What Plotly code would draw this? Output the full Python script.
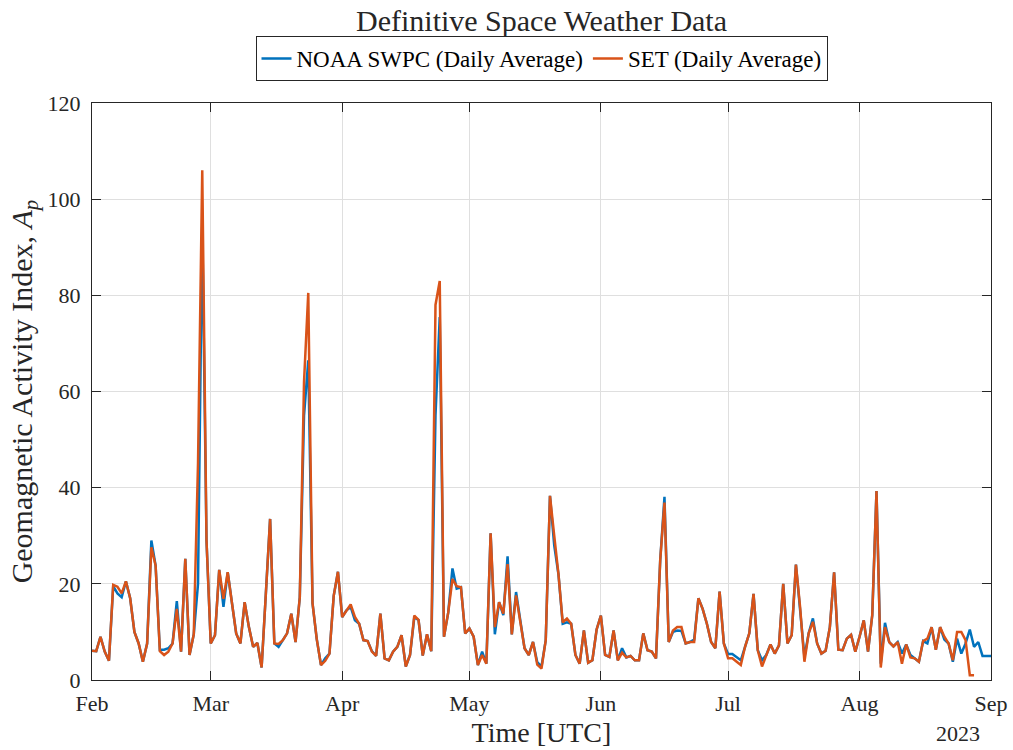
import pandas as pd
import plotly.graph_objects as go

# Daily average Ap, 2023-02-01 .. 2023-09-01
noaa_ap = [
    6.1, 6, 9, 5.9, 4, 19.5, 18, 17.2, 20.5, 17, 10, 7.6, 3.8, 7.6, 29, 23.8, 6.3, 6.3, 6.6, 7.6,
    16.4, 5.9, 25.2, 5.2, 9.5, 20, 95, 29, 7.6, 9.3, 22.9, 15.2, 22.4, 15.9, 9.7, 7.6, 16.2, 11, 6.9, 7.7,
    2.6, 18, 33.5, 7.6, 6.9, 8.3, 9.7, 13.8, 7.9, 17.2, 55, 66.5, 16, 8.5, 3.1, 4.5, 5.5, 17.5, 22.5, 13.1,
    14.5, 15.2, 12.4, 11.7, 8.3, 8.1, 6, 5, 13.8, 4.5, 4.1, 5.9, 6.9, 9.3, 2.8, 5.2, 13, 12.5, 5.1, 9.5,
    6, 55, 75.5, 9, 14, 23.2, 19, 19.3, 9.7, 10.7, 9, 3.1, 5.9, 3.4, 30.5, 9.5, 16.2, 13.5, 25.7, 9.5,
    18.3, 12.4, 6.6, 5.2, 7.9, 3.7, 2.8, 8.3, 38.3, 28, 22, 11.7, 12, 11.7, 5.2, 3.4, 10.3, 3.6, 4.1, 10.5,
    13.4, 5.2, 4.8, 10.3, 4.1, 6.6, 4.7, 5, 4.1, 4.1, 9.7, 6.2, 5.9, 4.5, 25, 38.1, 7.9, 10, 10.3, 10.2,
    7.6, 7.9, 8.4, 17, 14.8, 11.7, 7.9, 6.6, 18.4, 7.6, 5.4, 5.4, 4.8, 4.1, 6.9, 9.7, 17.9, 6.2, 4.1, 5.2,
    7.4, 5.5, 7.2, 20, 7.6, 9.3, 24, 15, 4.8, 9.7, 12.8, 7.6, 5.5, 6.1, 11, 22.4, 6.3, 6.2, 8.6, 9.4,
    5.9, 9, 12.4, 5.9, 13.5, 39.3, 3.4, 11.9, 7.9, 7, 7.9, 5.5, 7.4, 5.2, 4.5, 3.8, 8.1, 7.6, 11, 6.3,
    11, 8.4, 7.6, 3.8, 8.6, 5.5, 7.6, 10.5, 6.9, 7.9, 5, 5, 5,
]

set_ap = [
    6.1, 6, 9, 5.9, 4, 19.8, 19.4, 18, 20.5, 17, 10, 7.6, 3.8, 7.6, 27.6, 23.8, 6, 5.2, 5.9, 7.6,
    14.8, 5.9, 25.2, 5.2, 9.5, 45, 106, 29, 7.6, 9.3, 22.9, 16.9, 22.4, 15.9, 9.7, 7.6, 16.2, 11, 6.9, 7.7,
    2.6, 18, 33.5, 7.6, 7.5, 8.3, 9.7, 13.8, 7.9, 17.2, 62, 80.5, 16, 8.5, 3.1, 4, 5.5, 17.5, 22.5, 13.1,
    14.5, 15.7, 13.1, 11.7, 8.3, 8.1, 5.9, 5, 13.8, 4.5, 4.1, 5.9, 6.9, 9.3, 2.8, 5.2, 13.4, 12.5, 5.1, 9.5,
    6, 78, 83, 9, 14, 21, 19.5, 19.3, 9.7, 10.7, 9, 3.1, 5.2, 3.4, 30.5, 11, 16.2, 13.8, 24.1, 9.5,
    17.6, 12.4, 6.6, 5.2, 7.9, 3.2, 2.4, 8.3, 38.3, 30, 22, 12, 12.8, 11.7, 5.2, 3.4, 10.3, 3.6, 4.1, 10.5,
    13.4, 5.2, 4.8, 10.3, 4.1, 5.7, 4.7, 5, 4.1, 4.1, 9.7, 6.2, 5.9, 4.5, 25, 36.9, 7.9, 10.3, 11, 11,
    7.6, 7.9, 7.9, 17, 14.8, 11.7, 7.9, 6.6, 18.4, 7.6, 4.5, 4.5, 3.8, 3.1, 6.9, 9.7, 17.9, 6.2, 2.8, 5.2,
    7.4, 5.5, 7.2, 20, 7.6, 9.3, 24, 15, 3.8, 9.7, 12.1, 7.6, 5.5, 6.1, 11, 22.4, 6.3, 6.2, 8.6, 9.4,
    5.9, 9, 12.4, 5.9, 13.5, 39.3, 2.6, 11, 7.9, 7, 7.9, 3.4, 7.4, 4.7, 4.5, 3.8, 8.1, 8.6, 11, 6.3,
    11, 9, 7.6, 4.1, 10, 10, 8.3, 1, 1,
]

noaa_dates = pd.date_range("2023-02-01", periods=len(noaa_ap), freq="D")
set_dates = pd.date_range("2023-02-01", periods=len(set_ap), freq="D")

month_ticks = ["2023-02-01", "2023-03-01", "2023-04-01", "2023-05-01",
               "2023-06-01", "2023-07-01", "2023-08-01", "2023-09-01"]
month_labels = ["Feb", "Mar", "Apr", "May", "Jun", "Jul", "Aug", "Sep"]
y_ticks = [0, 20, 40, 60, 80, 100, 120]

FONT = "Liberation Serif, Times New Roman, serif"
INK = "#262626"
GRID = "rgb(223,223,223)"

fig = go.Figure()
fig.add_trace(go.Scatter(x=noaa_dates, y=noaa_ap, mode="lines",
                         name="NOAA SWPC (Daily Average)",
                         line=dict(color="#0072BD", width=2.5)))
fig.add_trace(go.Scatter(x=set_dates, y=set_ap, mode="lines",
                         name="SET (Daily Average)",
                         line=dict(color="#D95319", width=2.5)))

fig.update_layout(
    width=1013, height=750,
    margin=dict(l=92, r=22, t=103, b=70, autoexpand=False),
    paper_bgcolor="white", plot_bgcolor="white",
    font=dict(family=FONT, size=22, color=INK),
    title=dict(text="Definitive Space Weather Data", x=0.5, xref="paper",
               y=1 - 20 / 750, yref="container", yanchor="middle",
               font=dict(family=FONT, size=30, color=INK)),
    legend=dict(orientation="h", x=0.5, xanchor="center", y=(680 - 81) / 577, yanchor="bottom",
                bgcolor="white", bordercolor=INK, borderwidth=1,
                font=dict(family=FONT, size=23, color="#000000"),
                itemwidth=30, tracegroupgap=0),
    showlegend=True,
)

fig.update_xaxes(
    type="date", range=["2023-02-01", "2023-09-01"], automargin=False,
    tickmode="array", tickvals=month_ticks, ticktext=month_labels,
    ticks="inside", ticklen=9, tickcolor=INK, tickwidth=1,
    showline=True, linecolor=INK, linewidth=1, mirror="ticks",
    showgrid=True, gridcolor=GRID, gridwidth=1, zeroline=False,
    tickfont=dict(family=FONT, size=22, color=INK),
    ticklabelstandoff=4,
    title=dict(text="Time [UTC]", font=dict(family=FONT, size=28, color=INK), standoff=6),
)
fig.update_yaxes(
    range=[0, 120], tickmode="array", tickvals=y_ticks, automargin=False,
    ticks="inside", ticklen=9, tickcolor=INK, tickwidth=1,
    showline=True, linecolor=INK, linewidth=1, mirror="ticks",
    showgrid=True, gridcolor=GRID, gridwidth=1, zeroline=False,
    tickfont=dict(family=FONT, size=22, color=INK),
    ticklabelstandoff=6,
    title=dict(text="Geomagnetic Activity Index, <i>A</i><sub><i>p</i></sub>",
               font=dict(family=FONT, size=30, color=INK), standoff=6),
)

fig.add_annotation(text="2023", xref="paper", yref="paper", x=0.963, y=-(733 - 680) / 577,
                   xanchor="center", yanchor="middle", showarrow=False,
                   font=dict(family=FONT, size=22, color=INK))

fig.write_html("out.html")
